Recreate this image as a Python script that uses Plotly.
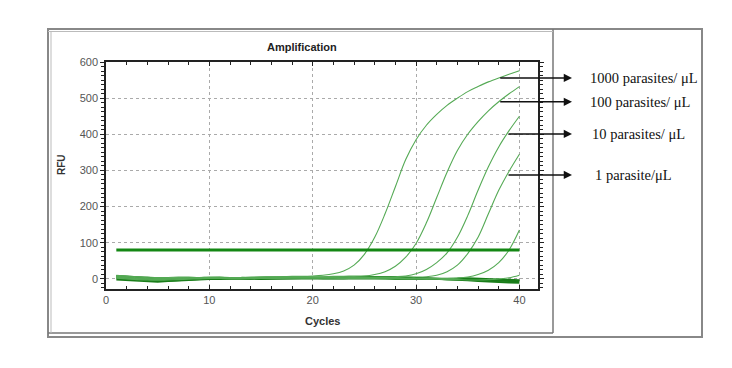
import numpy as np
import plotly.graph_objects as go

cycles = list(range(1, 41))
curve_1000 = [10,8,6,5,4,4,5,5,4,5,5,4,4,5,5,6,6,7,7,8,
              10,14,22,38,68,115,180,255,330,385,425,455,480,500,518,532,545,556,566,576]
curve_100 = [9,7,5,3,2,2,3,3,4,4,3,3,4,4,5,5,5,6,6,6,
             6,7,7,8,8,12,20,35,60,98,155,225,295,355,400,435,465,490,512,532]
curve_10 = [7,5,3,2,1,1,2,2,3,3,3,2,2,3,3,3,4,4,4,4,
            4,4,5,5,5,5,5,6,8,14,26,45,72,115,175,245,310,365,410,450]
curve_1 = [5,3,1,0,-1,0,1,1,2,2,2,1,1,2,2,2,3,3,3,3,
           3,3,3,4,4,4,4,4,5,5,6,10,20,38,70,115,180,245,298,345]
curve_low = [4,2,0,-1,-2,-1,0,1,1,2,2,1,1,2,2,2,2,3,3,3,
             3,3,2,2,2,2,2,2,1,1,1,1,1,2,5,12,24,45,80,135]
curve_late = [2,0,-2,-3,-4,-3,-2,-1,0,1,1,0,0,1,1,1,2,2,2,2,
              2,2,1,1,1,1,0,0,0,0,-1,-1,-2,-2,-3,-3,-2,0,3,10]
neg_1 = [8,6,4,2,1,0,1,2,3,2,3,2,1,2,3,4,3,4,5,3,4,6,5,4,6,5,4,3,2,1,2,1,0,-1,-2,-3,-4,-5,-6,-6]
neg_2 = [3,1,-2,-4,-5,-5,-3,-1,0,1,2,1,0,1,2,2,3,2,1,2,3,2,1,2,3,2,1,0,0,1,0,-1,0,1,2,1,0,-1,-2,-4]
neg_3 = [-2,-3,-5,-7,-8,-6,-4,-3,-1,0,0,1,2,1,0,1,2,1,2,3,2,1,2,3,4,5,6,5,4,3,2,1,0,-2,-4,-6,-8,-9,-10,-11]
threshold_x = [1, 40]
threshold_y = [80, 80]

labels = ["1000 parasites/ μL", "100 parasites/ μL", "10 parasites/ μL", "1 parasite/μL"]
label_curves = [curve_1000, curve_100, curve_10, curve_1]
label_cycles = [38.0, 38.0, 38.8, 38.8]

x_range = [0, 41.8]
y_range = [-28, 600]

W, H = 732, 368
L, R, T, B = 106, 538, 62, 289

def px2x(px):
    return (px - L) / (R - L)

def py2y(py):
    return (B - py) / (B - T)

fig = go.Figure()
amp_color = "rgb(85,170,85)"
neg_color = "rgb(25,125,25)"
for s in [neg_1, neg_2, neg_3]:
    fig.add_trace(go.Scatter(x=cycles, y=s, mode="lines",
                             line=dict(color=neg_color, width=2), showlegend=False))
for s in [curve_1000, curve_100, curve_10, curve_1, curve_low, curve_late]:
    fig.add_trace(go.Scatter(x=cycles, y=s, mode="lines", line_shape="spline",
                             line=dict(color=amp_color, width=1.1), showlegend=False))
fig.add_trace(go.Scatter(x=threshold_x, y=threshold_y, mode="lines",
                         line=dict(color="rgb(20,135,20)", width=3), showlegend=False))

axis_font = dict(family="Liberation Sans, Arial", size=11, color="#555")
fig.update_xaxes(range=x_range, tickvals=[0, 10, 20, 30, 40], showgrid=True,
                 gridcolor="#aaa", griddash="dot", gridwidth=1,
                 showline=True, linecolor="#222", linewidth=1.5, mirror="allticks",
                 ticks="inside", ticklen=4, tickcolor="#222", tickfont=axis_font,
                 minor=dict(dtick=2, ticks="inside", ticklen=3, tickcolor="#222"),
                 zeroline=False)
fig.update_yaxes(range=y_range, tickvals=[0, 100, 200, 300, 400, 500, 600], showgrid=True,
                 gridcolor="#aaa", griddash="dot", gridwidth=1,
                 showline=True, linecolor="#222", linewidth=1.5, mirror="allticks",
                 ticks="outside", ticklen=4, tickcolor="#222", tickfont=axis_font,
                 minor=dict(dtick=12.5, tick0=0, ticks="outside", ticklen=3, tickcolor="#222"),
                 zeroline=False)

annotations = [
    dict(text="<b>Amplification</b>", x=px2x(302), y=py2y(47), xref="paper", yref="paper",
         xanchor="center", yanchor="middle",
         showarrow=False, font=dict(family="Liberation Sans, Arial", size=11, color="#222")),
    dict(text="<b>Cycles</b>", x=px2x(322), y=py2y(321), xref="paper", yref="paper",
         xanchor="center", yanchor="middle",
         showarrow=False, font=dict(family="Liberation Sans, Arial", size=11, color="#333")),
    dict(text="<b>RFU</b>", x=px2x(61), y=py2y(165), xref="paper", yref="paper",
         xanchor="center", yanchor="middle",
         showarrow=False, textangle=-90, font=dict(family="Liberation Sans, Arial", size=10, color="#333")),
]
head_px = 572
label_px = [588, 588, 590, 593]
px_per_cycle = (R - L) / (x_range[1] - x_range[0])
for lab, cur, cyc, lpx in zip(labels, label_curves, label_cycles, label_px):
    val = float(np.interp(cyc, cycles, cur))
    tail_px = L + (cyc - x_range[0]) * px_per_cycle
    annotations.append(dict(x=px2x(head_px), y=val, xref="paper", yref="y",
                            ax=tail_px - head_px, ay=0, axref="pixel", ayref="pixel",
                            showarrow=True, arrowhead=2, arrowsize=1.1, arrowwidth=1.5,
                            arrowcolor="#111", text=""))
    annotations.append(dict(text=lab, x=px2x(lpx), y=val, xref="paper", yref="y",
                            xanchor="left", yanchor="middle", showarrow=False,
                            font=dict(family="Liberation Serif, Times New Roman", size=14.5, color="#111")))

shapes = [
    dict(type="rect", xref="paper", yref="paper", x0=px2x(48), x1=px2x(702),
         y0=py2y(337), y1=py2y(29), line=dict(color="#888", width=2)),
    dict(type="line", xref="paper", yref="paper", x0=px2x(553), x1=px2x(553),
         y0=py2y(333), y1=py2y(29), line=dict(color="#777", width=1.5)),
    dict(type="line", xref="paper", yref="paper", x0=px2x(48), x1=px2x(553),
         y0=py2y(333), y1=py2y(333), line=dict(color="#777", width=1.5)),
    dict(type="line", xref="paper", yref="paper", x0=px2x(51), x1=px2x(51),
         y0=py2y(333), y1=py2y(31), line=dict(color="#bbb", width=1)),
    dict(type="line", xref="paper", yref="paper", x0=px2x(48), x1=px2x(553),
         y0=py2y(31.5), y1=py2y(31.5), line=dict(color="#bbb", width=1)),
]

fig.update_layout(width=W, height=H, margin=dict(l=L, r=W - R, t=T, b=H - B),
                  paper_bgcolor="white", plot_bgcolor="white",
                  annotations=annotations, shapes=shapes, showlegend=False)

fig.write_html("out.html", config={"displayModeBar": False},
               post_script="document.body.style.margin='0';document.body.style.overflow='hidden';")
